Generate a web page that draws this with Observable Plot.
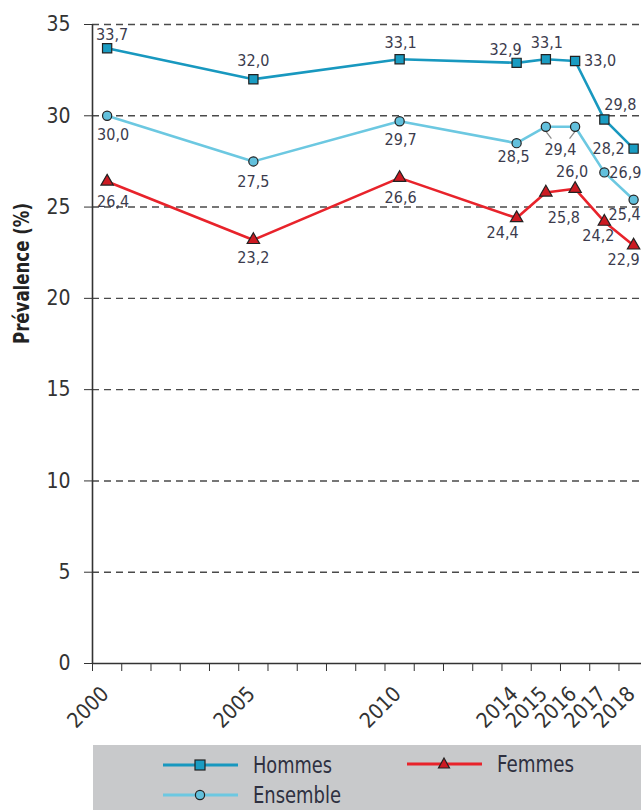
<!DOCTYPE html>
<html>
<head>
<meta charset="utf-8">
<script src="https://cdn.jsdelivr.net/npm/d3@7"></script>
<script src="https://cdn.jsdelivr.net/npm/@observablehq/plot@0.6"></script>
<style>
  body { margin: 0; background: #fff; }
  #wrap { position: relative; width: 641px; height: 810px; overflow: hidden;
          font-family: "DejaVu Sans Condensed", "Liberation Sans", sans-serif; }
  #legend { position: absolute; left: 93px; top: 745px; width: 548px; height: 65px; background: #c8c9cb; }
  #legend svg { display: block; }
</style>
</head>
<body>
<div id="wrap">
  <div id="chart"></div>
  <div id="legend"></div>
</div>
<script>
// ---- data ----
const years = [2000, 2005, 2010, 2014, 2015, 2016, 2017, 2018];
const hommes = [33.7, 32.0, 33.1, 32.9, 33.1, 33.0, 29.8, 28.2];
const femmes = [26.4, 23.2, 26.6, 24.4, 25.8, 26.0, 24.2, 22.9];
const ensemble = [30.0, 27.5, 29.7, 28.5, 29.4, 29.4, 26.9, 25.4];
const yTicks = [0, 5, 10, 15, 20, 25, 30, 35];
const seriesNames = ["Hommes", "Femmes", "Ensemble"];
const yTitle = "Prévalence (%)";

// ---- style ----
const FONT = '"DejaVu Sans Condensed", "Liberation Sans", sans-serif';
const colors = {
  Hommes:   {line: "#1898bf", fill: "#1a9cc2"},
  Femmes:   {line: "#e8232b", fill: "#cc1a22"},
  Ensemble: {line: "#6cc8e1", fill: "#62c0dc"}
};
const symbols = {Hommes: "square", Femmes: "triangle", Ensemble: "circle"};
const radius = {Hommes: 5.2, Femmes: 4.6, Ensemble: 4.6};
const labelColor = "#3b3b4d";

// label placement per point (style, not data): [dx, dy, textAnchor]
const placement = {
  Hommes:   [[5,-13],[0,-18],[1,-16],[-11,-13],[1,-16],[9,0,"start"],[16,-15],[-9,0,"end"]],
  Ensemble: [[6,19],[0,20],[1,19],[-3,14],null,null,[5,0,"start"],[-9,15]],
  Femmes:   [[6,20],[0,18],[1,20],[-14,15],[18,25],[-3,-17],[-6,14],[-10,14]]
};

const fmt = d => d.toFixed(1).replace(".", ",");
const valuesBy = {Hommes: hommes, Femmes: femmes, Ensemble: ensemble};
const rows = seriesNames.map(s => years.map((year, i) => ({series: s, year, value: valuesBy[s][i], i})));

const boundaries = d3.range(years[0] - 0.5, years[years.length - 1] + 0.6, 1);

const marks = [];
marks.push(Plot.ruleY(yTicks.filter(d => d > 0), {stroke: "#4a4a4a", strokeWidth: 1.4, strokeDasharray: "7,5"}));
marks.push(Plot.ruleY([0], {stroke: "#333", strokeWidth: 1.6}));
marks.push(Plot.ruleX([boundaries[0]], {y1: 0, y2: 35, stroke: "#333", strokeWidth: 1.6}));
marks.push(Plot.axisY({ticks: yTicks, tickSize: 8, tickPadding: 14, fontSize: 21, label: null, stroke: "#333", color: "#333"}));
marks.push(Plot.axisX({ticks: boundaries, tickSize: 8, tickFormat: () => "", label: null, stroke: "#333"}));
marks.push(Plot.text(years, {x: d => d, frameAnchor: "bottom", dy: 27, dx: -2, rotate: -45,
  textAnchor: "end", lineAnchor: "middle", fontSize: 21, fill: "#333", text: d => String(d)}));
marks.push(Plot.text([yTitle], {frameAnchor: "left", dx: -70, rotate: -90, fontSize: 21, fontWeight: "bold", fill: "#222", className: "ytitle"}));

const shared = rows[2].filter(d => d.year === 2015 || d.year === 2016);
const sharedX = (shared[0].year + shared[1].year) / 2;
marks.push(Plot.link(shared, {x1: "year", y1: d => d.value - 0.25, x2: d => d.year + (sharedX - d.year) * 0.38, y2: d => d.value - 0.65,
  stroke: "#888", strokeWidth: 1.2}));

for (const s of ["Ensemble", "Femmes", "Hommes"]) {
  const data = rows[seriesNames.indexOf(s)];
  marks.push(Plot.line(data, {x: "year", y: "value", stroke: colors[s].line, strokeWidth: 2.6}));
  marks.push(Plot.dot(data, {x: "year", y: "value", symbol: symbols[s], r: radius[s], fill: colors[s].fill, stroke: "#222", strokeWidth: 1.2}));
}
for (const s of seriesNames) {
  const data = rows[seriesNames.indexOf(s)];
  data.forEach((d, i) => {
    const p = placement[s][i];
    if (!p) return;
    marks.push(Plot.text([d], {x: "year", y: "value", text: d => fmt(d.value), dx: p[0], dy: p[1],
      textAnchor: p[2] || "middle", fontSize: 16, fill: labelColor}));
  });
}
marks.push(Plot.text([shared[0]], {x: () => sharedX, y: "value", text: d => fmt(d.value), dy: 23, fontSize: 16, fill: labelColor}));

const chart = Plot.plot({
  width: 641, height: 745,
  marginLeft: 92, marginRight: 0, marginTop: 24, marginBottom: 82,
  x: {domain: [boundaries[0], 2018.27]},
  y: {domain: [0, 35]},
  style: {fontFamily: FONT, background: "transparent"},
  marks
});
// condense the bold title like the reference's narrow face
chart.querySelectorAll(".ytitle text").forEach(t => {
  t.setAttribute("textLength", 141);
  t.setAttribute("lengthAdjust", "spacingAndGlyphs");
});
document.getElementById("chart").appendChild(chart);

// ---- legend ----
const sym = (s, cx, cy) => {
  const c = colors[s];
  if (s === "Hommes") return `<rect x="${cx-5}" y="${cy-5}" width="10" height="10" fill="${c.fill}" stroke="#222" stroke-width="1.2"/>`;
  if (s === "Ensemble") return `<circle cx="${cx}" cy="${cy}" r="4.6" fill="${c.fill}" stroke="#222" stroke-width="1.2"/>`;
  return `<path d="M${cx},${cy-6}L${cx+5.5},${cy+4}L${cx-5.5},${cy+4}Z" fill="${c.fill}" stroke="#222" stroke-width="1.2"/>`;
};
const legendItems = [
  {s: "Hommes", x: 70, y: 20, w: 79},
  {s: "Femmes", x: 314, y: 19, w: 77},
  {s: "Ensemble", x: 70, y: 50, w: 88}
];
let lg = `<svg width="548" height="65" style="font-family:${FONT.replace(/"/g, "'")}">`;
for (const it of legendItems) {
  lg += `<line x1="${it.x}" x2="${it.x + 75}" y1="${it.y}" y2="${it.y}" stroke="${colors[it.s].line}" stroke-width="3"/>`;
  lg += sym(it.s, it.x + 37, it.y);
  lg += `<text x="${it.x + 90}" y="${it.y + 8}" font-size="23" textLength="${it.w}" lengthAdjust="spacingAndGlyphs" fill="#2e3040">${it.s}</text>`;
}
lg += `</svg>`;
document.getElementById("legend").innerHTML = lg;
</script>
</body>
</html>
